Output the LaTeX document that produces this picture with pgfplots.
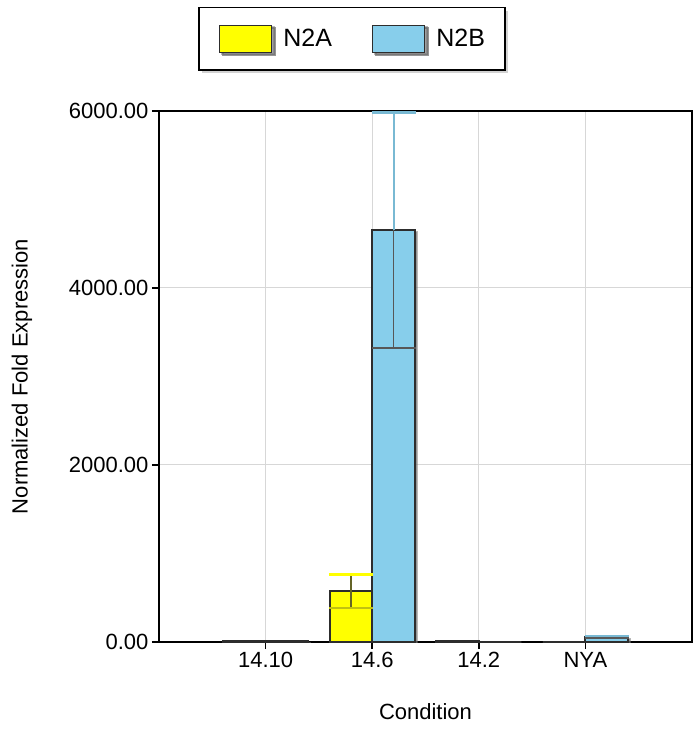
\documentclass[border=0pt]{standalone}
\usepackage{pgfplots}
\pgfplotsset{compat=1.18}
\usepackage{pgfplotstable}
\usepackage{fontspec}
\setmainfont{Liberation Sans}
\usetikzlibrary{shadows}
\definecolor{barA}{RGB}{255,255,0}
\definecolor{barB}{RGB}{135,206,235}
\definecolor{edge}{RGB}{45,45,45}
\definecolor{stemA}{RGB}{100,100,40}
\definecolor{gridc}{RGB}{215,215,215}

\pgfplotstableread{
x y
1 8
2 573
3 10
4 0
}\dataA
\pgfplotstableread{
x y
1 6
2 4655
3 0
4 55
}\dataB
\pgfplotstableread{
x y e
2 573 192
}\errA
\pgfplotstableread{
x y e
2 4655 1330
4 55 10
}\errB

\begin{document}
\begin{tikzpicture}[x=1pt,y=1pt]
\useasboundingbox (0,0) rectangle (694,734);
\begin{axis}[
  at={(159pt,92pt)}, anchor=south west,
  scale only axis, width=533pt, height=531pt,
  xmin=0, xmax=5, ymin=0, ymax=6000,
  xtick={1,2,3,4}, xticklabels={14.10,14.6,14.2,NYA},
  ytick={0,2000,4000,6000},
  /pgf/number format/assume math mode=true,
  y tick label style={/pgf/number format/.cd, fixed, fixed zerofill, precision=2, 1000 sep={}},
  tick label style={font=\fontsize{22}{26}\selectfont},
  label style={font=\fontsize{22}{26}\selectfont},
  xmajorgrids, ymajorgrids, grid style={gridc, line width=1pt},
  axis line style={black, line width=1.5pt},
  tick style={black, line width=1.5pt},
  tick align=outside, major tick length=7pt,
  xtick pos=bottom, ytick pos=left,
  xlabel={Condition}, ylabel={Normalized Fold Expression},
  xlabel style={at={(axis description cs:0.5,-0.1318)}, anchor=center},
  ylabel style={at={(axis description cs:-0.257,0.5)}, anchor=center},
  legend columns=2,
  legend style={at={(axis description cs:0.362,1.1356)}, anchor=center,
    draw=black, line width=1.5pt,
    drop shadow={shadow xshift=3pt, shadow yshift=-3pt, fill=gray!70},
    font=\fontsize{25}{29}\selectfont,
    inner xsep=20pt, inner ysep=17pt,
    nodes={inner sep=0pt},
    /tikz/every odd column/.append style={column sep=11pt},
    /tikz/every even column/.append style={column sep=40pt}},
]
\addplot[ybar, bar width=0.4, bar shift=-0.2, fill=barA, draw=edge, line width=2pt,
  drop shadow={shadow xshift=2pt, shadow yshift=-2pt, fill=black!55, draw=black!55},
  legend image code/.code={\draw[fill=barA,draw=edge,line width=1.5pt] (0pt,-13.5pt) rectangle (52pt,13.5pt);}]
  table[x=x,y=y]{\dataA};
\addlegendentry{N2A}
\addplot[ybar, bar width=0.4, bar shift=0.2, fill=barB, draw=edge, line width=2pt,
  drop shadow={shadow xshift=2pt, shadow yshift=-2pt, fill=black!55, draw=black!55},
  legend image code/.code={\draw[fill=barB,draw=edge,line width=1.5pt] (0pt,-13.5pt) rectangle (52pt,13.5pt);}]
  table[x=x,y=y]{\dataB};
\addlegendentry{N2B}
% upper error bars (over white)
\addplot[forget plot, draw=none, mark=none,
  error bars/.cd, y dir=plus, y explicit,
  error bar style={draw=stemA, line width=1.5pt},
  error mark options={draw=barA, line width=2.5pt, mark size=22pt, rotate=90}]
  table[x expr=\thisrow{x}-0.2, y=y, y error=e]{\errA};
\addplot[forget plot, draw=none, mark=none,
  error bars/.cd, y dir=plus, y explicit,
  error bar style={draw=barB!90!black, line width=2pt},
  error mark options={draw=barB!90!black, line width=2.5pt, mark size=22pt, rotate=90}]
  table[x expr=\thisrow{x}+0.2, y=y, y error=e]{\errB};
% lower error bars (inside bars)
\addplot[forget plot, draw=none, mark=none,
  error bars/.cd, y dir=minus, y explicit,
  error bar style={draw=stemA, line width=1.5pt},
  error mark options={draw=stemA!40!barA, line width=2pt, mark size=22pt, rotate=90}]
  table[x expr=\thisrow{x}-0.2, y=y, y error=e]{\errA};
\addplot[forget plot, draw=none, mark=none,
  error bars/.cd, y dir=minus, y explicit,
  error bar style={draw=edge!80, line width=1.5pt},
  error mark options={draw=edge!80, line width=2pt, mark size=22pt, rotate=90}]
  table[x expr=\thisrow{x}+0.2, y=y, y error=e]{\errB};
\end{axis}
\end{tikzpicture}
\end{document}
